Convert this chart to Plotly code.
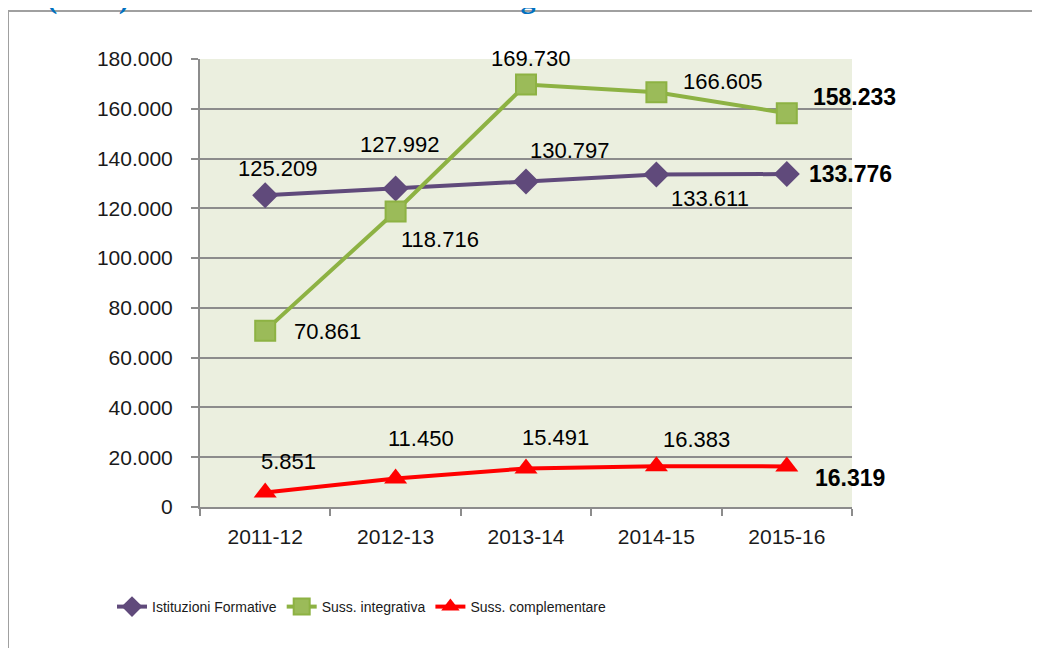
import plotly.graph_objects as go

categories = ["2011-12", "2012-13", "2013-14", "2014-15", "2015-16"]
istituzioni = [125209, 127992, 130797, 133611, 133776]
integrativa = [70861, 118716, 169730, 166605, 158233]
complementare = [5851, 11450, 15491, 16383, 16319]
series_names = ["Istituzioni Formative", "Suss. integrativa", "Suss. complementare"]
y_ticks = [0, 20000, 40000, 60000, 80000, 100000, 120000, 140000, 160000, 180000]
title_text = "Graf. 4: (sotto)Sistema di IeFP: evoluzione degli iscritti"

def fmt(v):
    return f"{v:,}".replace(",", ".")

FONT = "Liberation Sans"
W, H = 1032, 640
L, T, PW, PH = 192, 51, 652, 448


def px(xf):
    return (xf - L) / PW


def py(yf):
    return (T + PH - yf) / PH


fig = go.Figure()
fig.add_trace(go.Scatter(x=categories, y=istituzioni, name=series_names[0], mode="lines+markers",
                         line=dict(color="#604A7B", width=4),
                         marker=dict(symbol="diamond", size=20, color="#604A7B")))
fig.add_trace(go.Scatter(x=categories, y=integrativa, name=series_names[1], mode="lines+markers",
                         line=dict(color="#8DB243", width=4),
                         marker=dict(symbol="square", size=20, color="#9BBB59",
                                     line=dict(color="#8DB243", width=2))))
fig.add_trace(go.Scatter(x=categories, y=complementare, name=series_names[2], mode="lines+markers",
                         line=dict(color="#FF0000", width=4),
                         marker=dict(symbol="triangle-up", size=20, color="#FF0000")))

# label offsets (xshift, yshift, xanchor)
offs = {
    0: [(13, 27, "center"), (4, 44, "center"), (44, 31, "center"), (54, -24, "center"), (20, 0, "left")],
    1: [(27, -1, "left"), (44, -28, "center"), (5, 26, "center"), (67, 11, "center"), (24, 16, "left")],
    2: [(23, 31, "center"), (25, 40, "center"), (29, 31, "center"), (40, 27, "center"), (26, -12, "left")],
}
annotations = []
for si, vals in enumerate([istituzioni, integrativa, complementare]):
    for i, v in enumerate(vals):
        dx, dy, xa = offs[si][i]
        last = i == len(vals) - 1
        annotations.append(dict(
            x=i, y=v, xref="x", yref="y", showarrow=False,
            text=(f"<b>{fmt(v)}</b>" if last else fmt(v)),
            xshift=dx, yshift=dy, xanchor=xa, yanchor="middle",
            font=dict(family=FONT, size=(23 if last else 22), color="#000000")))

annotations.append(dict(
    x=px(637), y=py(9), xref="paper", yref="paper",
    xanchor="right", yanchor="bottom", showarrow=False, text=f"<b>{title_text}</b>",
    font=dict(family="Liberation Serif", size=30, color="#0070C0")))

shapes = [
    dict(type="line", xref="paper", yref="paper",
         x0=px(0), x1=px(0), y0=py(3), y1=py(700),
         line=dict(color="#A0A0A0", width=2)),
    dict(type="line", xref="paper", yref="paper",
         x0=px(0), x1=px(1100), y0=py(3), y1=py(3),
         line=dict(color="#A0A0A0", width=2)),
]

fig.update_layout(
    width=W, height=H,
    margin=dict(l=L, r=W - L - PW, t=T, b=H - T - PH, autoexpand=False),
    paper_bgcolor="white", plot_bgcolor="#EBEFDF",
    separators=",.",
    showlegend=True,
    legend=dict(orientation="h", x=px(104), y=py(599),
                xanchor="left", yanchor="middle",
                font=dict(family=FONT, size=14, color="#1a1a1a"),
                itemwidth=30, tracegroupgap=0, bgcolor="rgba(0,0,0,0)"),
    annotations=annotations, shapes=shapes,
    xaxis=dict(type="category", range=[-0.5, 4.5], showgrid=False, showline=True,
               linecolor="#8C8C8C", linewidth=2,
               ticks="outside", tickson="boundaries", ticklen=7, tickcolor="#8C8C8C", tickwidth=2,
               tickfont=dict(family=FONT, size=21, color="#1a1a1a"), ticklabelstandoff=10,
               zeroline=False),
    yaxis=dict(range=[0, 180000], tickvals=y_ticks, tickformat=",d",
               showgrid=True, gridcolor="#8C8C8C", gridwidth=2,
               showline=True, linecolor="#8C8C8C", linewidth=2,
               ticks="outside", ticklen=7, tickcolor="#8C8C8C", tickwidth=2,
               tickfont=dict(family=FONT, size=21, color="#1a1a1a"), ticklabelstandoff=14,
               zeroline=False),
)

fig.write_html("out.html")
